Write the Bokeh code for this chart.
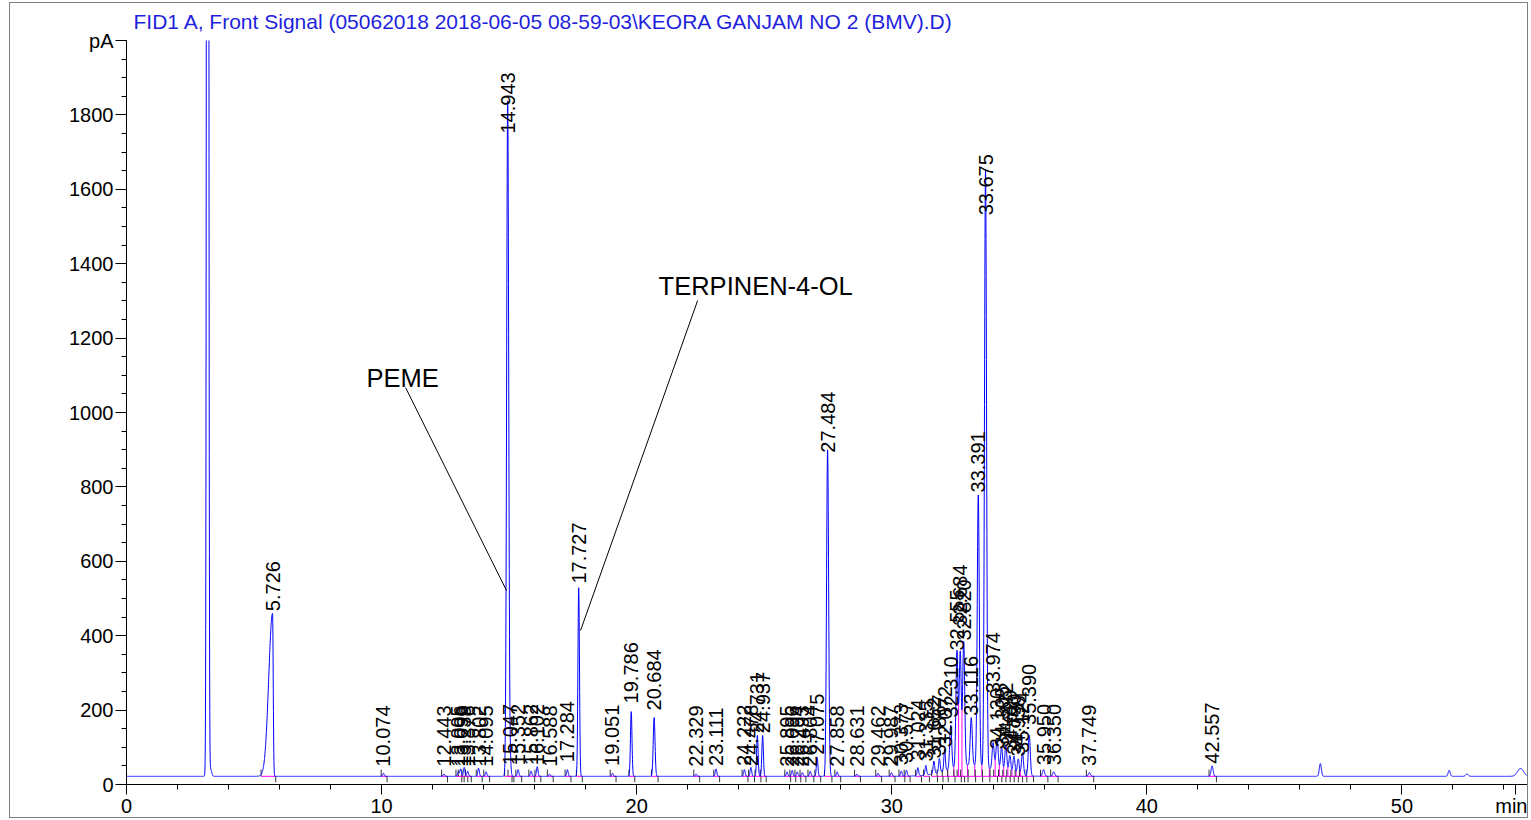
import numpy as np
from bokeh.plotting import figure
from bokeh.models import FixedTicker, Range1d, ColumnDataSource
from bokeh.core.properties import value
from bokeh.embed import file_html
from bokeh.resources import INLINE

TITLE = "FID1 A, Front Signal (05062018 2018-06-05 08-59-03\\KEORA GANJAM NO 2 (BMV).D)"
BASE_PA = 22

# labelled peaks: retention-time label, apex (pA), left/right widths (min), label start (pA)
peak_labels = ["5.726", "10.074", "12.443", "13.005", "13.096", "13.239", "13.376", "13.802",
               "14.095", "14.943", "15.047", "15.352", "15.862", "16.102", "16.588", "17.284",
               "17.727", "19.051", "19.786", "20.684", "22.329", "23.111", "24.222", "24.478",
               "24.731", "24.937", "25.895", "26.096", "26.294", "26.493", "26.804", "27.075",
               "27.484", "27.858", "28.631", "29.462", "29.987", "30.373", "30.577", "31.024",
               "31.335", "31.652", "31.867", "32.072", "32.310", "32.555", "32.684", "32.820",
               "33.116", "33.391", "33.675", "33.974", "34.130", "34.305", "34.472", "34.629",
               "34.790", "34.958", "35.124", "35.390", "35.950", "36.350", "37.749", "42.557"]
peak_apex = [460, 30, 28, 34, 42, 46, 36, 44,
             34, 1840, 55, 40, 36, 48, 28, 40,
             530, 30, 196, 180, 28, 42, 40, 46,
             132, 132, 34, 38, 34, 32, 36, 72,
             900, 34, 28, 30, 32, 36, 38, 44,
             48, 56, 60, 80, 140, 335, 330, 355,
             150, 750, 1630, 95, 105, 90, 98, 72,
             72, 66, 84, 132, 40, 34, 32, 50]
peak_sig_l = [0.15] + [0.03] * 8 + [0.04] + [0.03] * 6 + [0.03] * 3 + [0.035] + [0.03] * 12 + \
             [0.04] + [0.03] * 11 + [0.04] * 8 + [0.045] + [0.04] * 9 + [0.04] * 4
peak_sig_r = [0.025] + peak_sig_l[1:]
label_pa = [466, 48, 48, 48, 48, 48, 48, 48,
            48, 1750, 52, 52, 52, 52, 48, 60,
            540, 50, 218, 199, 48, 50, 50, 50,
            138, 138, 48, 48, 48, 48, 48, 80,
            892, 48, 48, 48, 48, 52, 58, 65,
            62, 70, 78, 100, 180, 360, 427, 387,
            185, 785, 1530, 245, 95, 100, 110, 90,
            80, 75, 85, 160, 52, 52, 50, 56]

# unlabelled features: solvent peak, small late peaks, unresolved hump under the cluster
other_rt = [3.18, 3.30, 46.80, 51.85, 52.55, 54.65, 33.10]
other_apex = [9000, 40, 56, 38, 28, 43, 52]
other_sig = [0.03, 0.04, 0.04, 0.04, 0.05, 0.12, 0.85]

# annotations
annot_text = ["PEME", "TERPINEN-4-OL"]
annot_text_t = [9.41, 20.86]
annot_text_pa = [1094, 1341]
annot_from_t = [10.94, 22.39]
annot_from_pa = [1067, 1301]
annot_to_t = [14.90, 17.80]
annot_to_pa = [521, 414]

x_major = [0, 10, 20, 30, 40, 50, 54.45]
x_major_names = {54.45: "min"}
x_minor = [v for v in range(0, 56, 2)]
y_major = [0, 200, 400, 600, 800, 1000, 1200, 1400, 1600, 1800, 2000]
y_major_names = {2000: "pA"}
y_minor = [v for v in range(0, 2001, 50)]

FONT = "Liberation Sans"

# ---- build the trace from the peak table ----
t = np.arange(0.0, 55.0001, 0.005)
sig = np.full_like(t, float(BASE_PA))
rts = [float(s) for s in peak_labels]
for rt, h, sl, sr in zip(rts, peak_apex, peak_sig_l, peak_sig_r):
    s = np.where(t < rt, sl, sr)
    sig += (h - BASE_PA) * np.exp(-0.5 * ((t - rt) / s) ** 2)
for rt, h, s in zip(other_rt, other_apex, other_sig):
    sig += (h - BASE_PA) * np.exp(-0.5 * ((t - rt) / s) ** 2)

starts = [rt - 3 * sl for rt, sl in zip(rts, peak_sig_l)]
ends = [rt + 3 * sr + 0.05 for rt, sr in zip(rts, peak_sig_r)]

p = figure(width=1519, height=816, output_backend="svg", toolbar_location=None,
           x_range=Range1d(0, 55), y_range=Range1d(0, 2000),
           min_border_left=116, min_border_right=0, min_border_top=37, min_border_bottom=35)
p.styles = {"border": "1px solid #7f7f7f", "margin-left": "9px", "margin-top": "2px"}
p.outline_line_color = None
p.grid.visible = False
p.background_fill_color = "white"
p.border_fill_color = "white"

p.title.text = TITLE
p.title.text_color = "#1f1fdd"
p.title.text_font = FONT
p.title.text_font_style = "normal"
p.title.text_font_size = "21px"
p.title.align = "left"
p.title.vertical_align = "top"
p.title.offset = 7
p.title.standoff = 12

# magenta integration baselines
p.segment(x0=starts, y0=[BASE_PA] * len(starts), x1=ends, y1=[BASE_PA] * len(ends),
          line_color="#ff00ff", line_width=1)
# drop lines in the crowded cluster
cl = [i for i, r in enumerate(rts) if 32.0 <= r <= 35.5]
drop_t = [(rts[i] + rts[i + 1]) / 2 for i in cl[:-1]]
drop_pa = list(np.interp(drop_t, t, sig))
p.segment(x0=drop_t, y0=[BASE_PA] * len(drop_t), x1=drop_t, y1=drop_pa,
          line_color="#ff00ff", line_width=1)
# integration start / end marks
p.segment(x0=starts, y0=[BASE_PA] * len(starts), x1=starts, y1=[BASE_PA + 18] * len(starts),
          line_color="#333333", line_width=1)
p.segment(x0=ends, y0=[BASE_PA - 16] * len(ends), x1=ends, y1=[BASE_PA] * len(ends),
          line_color="#333333", line_width=1)

p.line(x="t", y="s", source=ColumnDataSource(dict(t=t, s=sig)), line_color="#0000ff", line_width=1)

p.text(x=rts, y=label_pa, text=peak_labels, angle=np.pi / 2, text_align="left",
       text_baseline="middle", text_font=value(FONT), text_font_size="20px", text_color="black")

p.segment(x0=annot_from_t, y0=annot_from_pa, x1=annot_to_t, y1=annot_to_pa,
          line_color="black", line_width=1)
p.text(x=annot_text_t, y=annot_text_pa, text=annot_text, text_align="left", text_baseline="middle",
       text_font=value(FONT), text_font_size="25.5px", text_color="black")

for ax in (p.xaxis[0], p.yaxis[0]):
    ax.axis_line_color = "black"
    ax.major_tick_line_color = "black"
    ax.minor_tick_line_color = "black"
    ax.major_tick_in = 0
    ax.minor_tick_in = 0
    ax.major_tick_out = 11
    ax.minor_tick_out = 5
    ax.major_label_text_font = FONT
    ax.major_label_text_font_size = "20px"
    ax.major_label_text_color = "black"
    ax.major_label_standoff = 2

p.xaxis[0].major_tick_out = 10
p.xaxis[0].major_label_standoff = 0
p.xaxis[0].ticker = FixedTicker(ticks=x_major, minor_ticks=x_minor)
p.xaxis[0].major_label_overrides = x_major_names
p.yaxis[0].ticker = FixedTicker(ticks=y_major, minor_ticks=y_minor)
p.yaxis[0].major_label_overrides = y_major_names

open("out.html", "w").write(file_html(p, INLINE))
